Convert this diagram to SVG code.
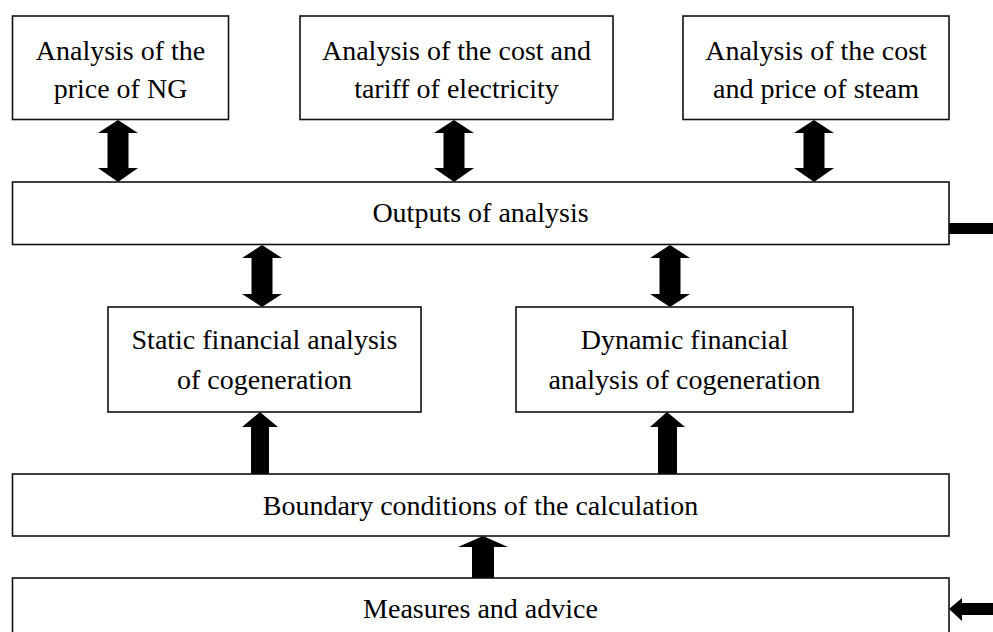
<svg xmlns="http://www.w3.org/2000/svg" width="993" height="632" viewBox="0 0 993 632">
  <style>
    .box { fill: #fff; stroke: #111; stroke-width: 1.6; }
    .lbl { font-family: "Liberation Serif", "Times New Roman", serif; font-size: 28px; fill: #000; text-anchor: middle; }
    .arr { fill: #000; stroke: none; }
  </style>
  <rect width="993" height="632" fill="#fff"/>

  <!-- connectors: thick block arrows -->
  <g id="connectors">
    <!-- double arrows between top boxes and outputs -->
    <path class="arr" d="M118,120 L138,133 L128.5,133 L128.5,168 L138,168 L118,182 L98,168 L107.5,168 L107.5,133 L98,133 Z"/>
    <path class="arr" d="M454,120 L474,133 L464.5,133 L464.5,168 L474,168 L454,182 L434,168 L443.5,168 L443.5,133 L434,133 Z"/>
    <path class="arr" d="M814,120 L834,133 L824.5,133 L824.5,168 L834,168 L814,182 L794,168 L803.5,168 L803.5,133 L794,133 Z"/>
    <!-- double arrows between outputs and the financial analyses -->
    <path class="arr" d="M262,245 L282,258 L272.5,258 L272.5,294 L282,294 L262,307 L242,294 L251.5,294 L251.5,258 L242,258 Z"/>
    <path class="arr" d="M670,245 L690,258 L680.5,258 L680.5,294 L690,294 L670,307 L650,294 L659.5,294 L659.5,258 L650,258 Z"/>
    <!-- single up arrows from boundary conditions -->
    <path class="arr" d="M260,412 L278,427 L269,427 L269,474 L251,474 L251,427 L242,427 Z"/>
    <path class="arr" d="M667,412 L685,427 L677,427 L677,474 L658,474 L658,427 L650,427 Z"/>
    <!-- up arrow from measures to boundary conditions -->
    <path class="arr" d="M483,536 L508,547 L494,547 L494,578 L472,578 L472,547 L458,547 Z"/>
    <!-- side stubs on the right -->
    <rect class="arr" x="949" y="223" width="44" height="11"/>
    <path class="arr" d="M949,609 L962,598 L962,603 L993,603 L993,615 L962,615 L962,621 Z"/>
  </g>

  <g id="ng-price">
    <rect class="box" x="12.5" y="16" width="216" height="103.5"/>
    <text class="lbl" x="120.5" y="60">Analysis of the</text>
    <text class="lbl" x="120.5" y="98">price of NG</text>
  </g>

  <g id="electricity">
    <rect class="box" x="300" y="16" width="313" height="103.5"/>
    <text class="lbl" x="456.5" y="60">Analysis of the cost and</text>
    <text class="lbl" x="456.5" y="98">tariff of electricity</text>
  </g>

  <g id="steam">
    <rect class="box" x="683" y="16" width="266" height="103.5"/>
    <text class="lbl" x="816" y="60">Analysis of the cost</text>
    <text class="lbl" x="816" y="98">and price of steam</text>
  </g>

  <g id="outputs">
    <rect class="box" x="12.5" y="182" width="936.5" height="62.5"/>
    <text class="lbl" x="480.5" y="222">Outputs of analysis</text>
  </g>

  <g id="static">
    <rect class="box" x="108" y="307" width="313" height="105"/>
    <text class="lbl" x="264.5" y="349">Static financial analysis</text>
    <text class="lbl" x="264.5" y="389">of cogeneration</text>
  </g>

  <g id="dynamic">
    <rect class="box" x="516" y="307" width="337" height="105"/>
    <text class="lbl" x="684.5" y="349">Dynamic financial</text>
    <text class="lbl" x="684.5" y="389">analysis of cogeneration</text>
  </g>

  <g id="boundary">
    <rect class="box" x="12.5" y="474" width="936.5" height="62"/>
    <text class="lbl" x="480.5" y="515">Boundary conditions of the calculation</text>
  </g>

  <g id="measures">
    <rect class="box" x="12.5" y="578" width="936.5" height="70"/>
    <text class="lbl" x="480.5" y="618">Measures and advice</text>
  </g>
</svg>
